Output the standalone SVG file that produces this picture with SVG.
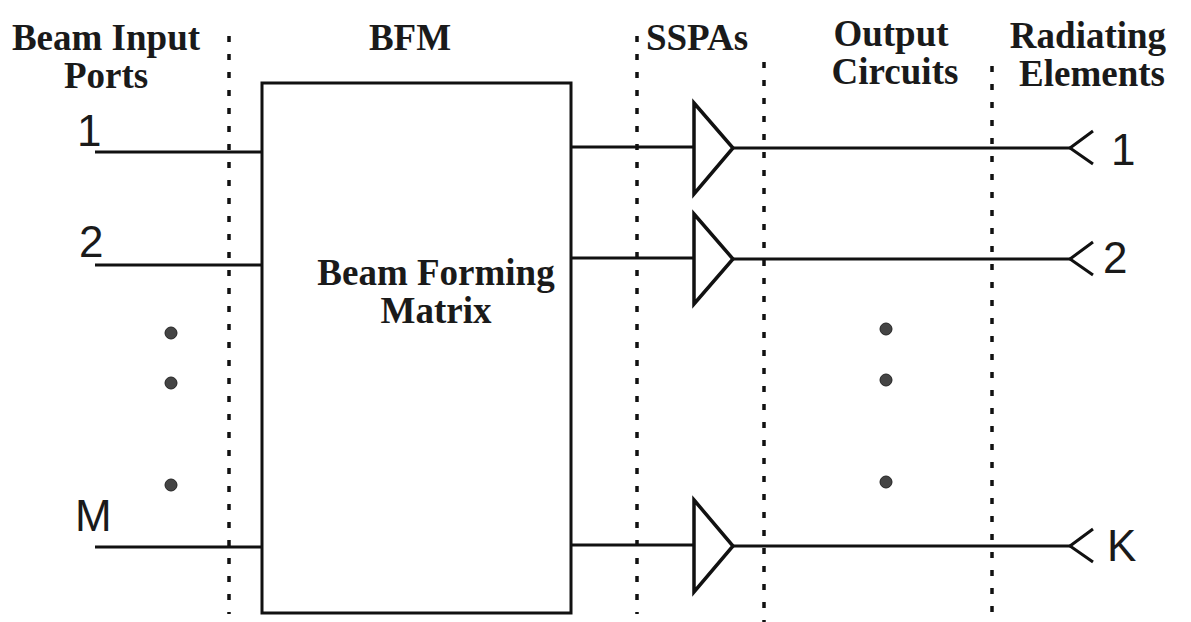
<svg xmlns="http://www.w3.org/2000/svg" width="1191" height="622" viewBox="0 0 1191 622">
<style>
.hdr{font-family:"Liberation Serif","Times New Roman",serif;font-weight:bold;font-size:37px;fill:#1a1a1a}
.num{font-family:"Liberation Sans",Arial,sans-serif;font-size:44px;fill:#1a1a1a}
.ln{stroke:#111;stroke-width:3;fill:none}
.dot{stroke:#111;stroke-width:3.5;stroke-dasharray:6 12;fill:none}
.bul{fill:#444;stroke:#222;stroke-width:1}
.amp{fill:#fff;stroke:#111;stroke-width:3.5;stroke-linejoin:miter}
</style>
<rect width="1191" height="622" fill="#fff"/>
<g id="headers">
<text class="hdr" x="106" y="50" text-anchor="middle">Beam Input</text>
<text class="hdr" x="106" y="88" text-anchor="middle">Ports</text>
<text class="hdr" x="410" y="50" text-anchor="middle">BFM</text>
<text class="hdr" x="697" y="50" text-anchor="middle">SSPAs</text>
<text class="hdr" x="891" y="46" text-anchor="middle">Output</text>
<text class="hdr" x="895" y="84" text-anchor="middle">Circuits</text>
<text class="hdr" x="1088" y="48" text-anchor="middle">Radiating</text>
<text class="hdr" x="1092" y="86" text-anchor="middle">Elements</text>
</g>
<g id="dividers">
<line class="dot" x1="229" y1="36" x2="229" y2="614"/>
<line class="dot" x1="637" y1="36" x2="637" y2="614"/>
<line class="dot" x1="764" y1="62" x2="764" y2="622"/>
<line class="dot" x1="992" y1="66" x2="992" y2="622"/>
</g>
<g id="connectors">
<line class="ln" x1="95" y1="152" x2="262" y2="152"/>
<line class="ln" x1="95" y1="265" x2="262" y2="265"/>
<line class="ln" x1="95" y1="547" x2="262" y2="547"/>
<line class="ln" x1="571" y1="147" x2="694" y2="147"/>
<line class="ln" x1="571" y1="258" x2="694" y2="258"/>
<line class="ln" x1="571" y1="545" x2="694" y2="545"/>
<line class="ln" x1="733" y1="148" x2="1070" y2="148"/>
<line class="ln" x1="733" y1="259" x2="1070" y2="259"/>
<line class="ln" x1="733" y1="546" x2="1070" y2="546"/>
</g>
<g id="bfm">
<rect class="ln" x="262" y="83" width="309" height="530"/>
<text class="hdr" x="436" y="285" text-anchor="middle">Beam Forming</text>
<text class="hdr" x="436" y="323" text-anchor="middle">Matrix</text>
</g>
<g id="inputs">
<text class="num" x="77" y="146">1</text>
<text class="num" x="79" y="257">2</text>
<text class="num" x="75" y="531">M</text>
<circle class="bul" cx="171" cy="333" r="6"/>
<circle class="bul" cx="171" cy="383" r="6"/>
<circle class="bul" cx="171" cy="485" r="6"/>
</g>
<g id="sspa1"><path class="amp" d="M694,103 L733,148 L694,194 Z"/></g>
<g id="sspa2"><path class="amp" d="M694,214 L733,259 L694,304 Z"/></g>
<g id="sspaK"><path class="amp" d="M694,500 L733,546 L694,592 Z"/></g>
<g id="outputdots">
<circle class="bul" cx="886" cy="329" r="6"/>
<circle class="bul" cx="886" cy="380" r="6"/>
<circle class="bul" cx="886" cy="482" r="6"/>
</g>
<g id="elem1"><path class="ln" d="M1093,131 L1070,148 L1093,164"/><text class="num" x="1111" y="165">1</text></g>
<g id="elem2"><path class="ln" d="M1093,242 L1070,259 L1093,275"/><text class="num" x="1103" y="273">2</text></g>
<g id="elemK"><path class="ln" d="M1093,529 L1070,546 L1093,562"/><text class="num" x="1107" y="561">K</text></g>
</svg>
